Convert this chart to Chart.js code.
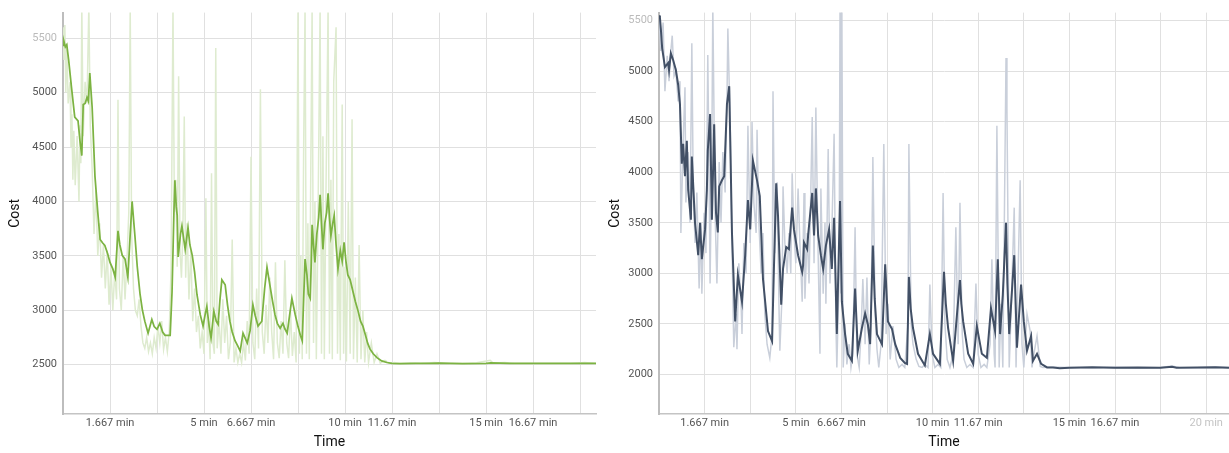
<!DOCTYPE html>
<html><head><meta charset="utf-8">
<script src="https://cdn.jsdelivr.net/npm/chart.js@4.4.1/dist/chart.umd.min.js"></script>
<style>
html,body{margin:0;padding:0;background:#fff;}
#wrap{position:relative;width:1229px;height:453px;overflow:hidden;}
canvas{position:absolute;top:0;}
</style></head><body>
<div id="wrap"><canvas id="c1" width="600" height="453" style="left:0"></canvas><canvas id="c2" width="629" height="453" style="left:600px"></canvas></div>
<script>
// ---- tick definitions ----
const xTickSecondsLeft = [0,100,200,300,400,500,600,700,800,900,1000,1100];
const xTickLabelsLeft = ['', '1.667 min', '', '5 min', '6.667 min', '', '10 min', '11.67 min', '', '15 min', '16.67 min', ''];
const xTickSecondsRight = [0,100,200,300,400,500,600,700,800,900,1000,1100,1200];
const xTickLabelsRight = ['', '1.667 min', '', '5 min', '6.667 min', '', '10 min', '11.67 min', '', '15 min', '16.67 min', '', '20 min'];
const yTicksLeft = [2500,3000,3500,4000,4500,5000,5500];
const yTicksRight = [2000,2500,3000,3500,4000,4500,5000,5500];

// ---- left panel: smoothed series (time in s, cost) ----
const leftSmoothT = [0,2,5,8,12,18,25,32,36,40,43,47,51,54,57,62,68,74,79,84,89,95,100,106,111,117,121,126,132,138,143,147,153,158,164,169,174,181,189,194,200,206,212,217,228,232,236,238,241,243,245,250,253,257,260,266,270,275,280,285,292,298,302,306,311,315,321,326,330,334,338,345,350,355,360,366,372,377,383,388,392,398,404,409,415,423,429,434,440,446,451,456,462,468,472,477,482,487,494,500,505,509,512,515,519,522,526,528,530,533,536,540,544,547,550,553,557,561,564,567,570,574,577,581,585,590,594,598,602,606,611,617,622,628,633,638,643,648,653,660,668,678,689,700,717,750,780,800,850,900,910,950,1000,1050,1100,1134];
const leftSmoothV = [5435,5470,5420,5440,5300,5050,4774,4740,4560,4420,4890,4900,4955,4920,5180,4865,4230,3900,3650,3620,3595,3520,3440,3380,3305,3730,3600,3505,3470,3305,3700,4000,3685,3400,3145,3000,2900,2790,2915,2850,2825,2880,2800,2770,2770,3170,3900,4195,3950,3870,3490,3700,3775,3650,3560,3760,3600,3505,3350,3145,2960,2855,2950,3035,2850,2745,2990,2900,2870,3100,3280,3235,3050,2900,2800,2720,2670,2625,2790,2740,2700,2810,3050,2950,2855,2900,3200,3395,3235,3080,2960,2880,2835,2880,2830,2790,2950,3110,2960,2850,2770,2720,3100,3470,3325,3150,3110,3400,3785,3600,3440,3700,3850,4060,3800,3560,3800,3900,4075,3850,3685,3800,3870,3600,3380,3550,3450,3625,3450,3325,3280,3170,3080,2990,2900,2855,2780,2700,2645,2600,2565,2535,2520,2513,2510,2512,2513,2515,2510,2513,2516,2512,2511,2512,2511,2512];

// ---- left panel: raw series ----
const leftRawT = [0,2,4,6,8,11,15,17,19,21,23,26,30,32,34,36,38,40,43,47,51,55,58,62,66,70,74,78,82,86,90,94,98,102,106,110,114,117,120,124,128,132,136,140,143,146,150,154,158,162,166,170,174,178,182,186,190,194,198,202,206,210,214,218,222,226,230,234,237,240,243,246,249,252,255,258,261,264,268,272,276,280,284,288,292,296,300,304,307,310,313,316,319,322,325,328,332,336,340,344,348,352,356,360,364,368,372,376,380,384,388,392,396,400,404,408,412,416,420,424,428,432,436,440,444,448,452,456,460,464,468,472,476,480,484,488,492,496,500,503,506,509,512,515,518,521,524,527,530,533,536,539,542,547,550,553,556,559,564,567,570,573,576,581,584,587,590,594,597,600,603,607,611,615,618,622,626,630,634,638,642,646,650,656,662,668,675,685,695,705,717,740,760,790,820,850,880,909,915,940,960,1000,1040,1080,1110,1134];
const leftRawV = [5600,5300,5620,5000,5450,4900,5100,4500,4800,4200,4650,4150,4600,4300,4000,4700,4350,5800,4600,5100,4900,5800,4700,4300,3700,4100,3500,3800,3300,3600,3200,3550,3050,3400,3000,3350,3100,4935,3200,3000,3500,3100,3450,3900,5800,3700,3200,3000,2950,3100,2850,2700,2650,2750,2620,2700,2600,2750,2650,2850,2700,2900,2640,2750,2620,2800,3400,5800,3900,4200,3400,5150,3550,3300,3700,4780,3300,3800,3100,3550,2900,3200,2800,2950,2650,2800,2600,4030,2700,2900,2550,4260,2700,2600,5410,2650,2900,2600,3100,2700,2950,2550,2700,3650,2520,2650,2520,2600,2520,2700,2540,2900,2600,4410,2700,2550,3200,2650,5030,2800,2600,3050,2700,3300,2800,2550,3440,2700,2560,2900,2600,3460,2700,2560,3000,2580,2800,2520,5800,2600,3500,2550,4500,5800,2600,3800,2550,4200,5800,2700,4000,2550,3600,5800,2600,4600,2550,3900,5800,2600,4200,2550,5100,5600,2600,3700,2540,4890,2600,3400,2530,4000,2600,4755,2550,3300,2520,3600,2550,3000,2520,2800,2520,2700,2520,2600,2515,2540,2512,2520,2510,2515,2510,2520,2512,2510,2518,2540,2515,2520,2512,2510,2512,2510,2520,2512];

// ---- right panel: smoothed series ----
const rightSmoothT = [0,2,4,7,13,20,22,26,31,37,42,46,50,53,57,61,64,70,72,79,86,90,94,101,105,107,112,116,121,125,129,132,138,143,149,154,160,167,173,182,189,195,200,206,215,221,228,239,248,252,257,261,268,272,279,285,292,296,305,314,316,318,325,327,336,340,344,349,355,360,366,373,379,384,390,397,401,408,414,423,430,436,445,452,458,463,469,473,478,489,496,502,511,518,529,539,544,548,552,557,568,583,594,601,616,625,629,634,645,654,660,663,667,678,689,697,708,719,728,737,743,748,754,761,764,768,779,785,794,800,807,816,820,829,838,851,864,879,900,950,1000,1050,1100,1125,1135,1180,1220,1250];
const rightSmoothV = [5550,5530,5420,5225,5040,5080,5010,5175,5110,5010,4865,4670,4085,4280,3960,4310,3825,3530,4155,3500,3180,3500,3140,3435,3825,4215,4575,3530,4475,3600,3405,3860,3920,3960,4670,4850,3405,2525,2985,2720,3180,3725,3435,4115,3920,3765,2945,2430,2330,3045,3890,3570,2690,3045,3260,3240,3650,3435,3180,3015,3080,3305,3240,3375,3795,3375,3840,3375,3180,3045,3275,3435,3045,3550,2400,3715,2720,2400,2205,2135,2850,2235,2460,2605,2495,2300,3275,2750,2400,2300,3090,2525,2450,2300,2165,2115,2105,2965,2650,2460,2205,2090,2400,2205,2105,3015,2700,2460,2135,2625,2935,2700,2525,2205,2105,2480,2205,2165,2655,2430,3140,2400,2790,3500,2900,2400,3180,2265,2890,2525,2235,2380,2135,2205,2105,2070,2070,2062,2068,2072,2066,2070,2068,2078,2068,2070,2072,2068];

// ---- right panel: raw series ----
const rightRawT = [0,4,9,13,18,22,26,29,33,37,42,46,48,53,57,59,64,68,72,75,79,83,88,92,94,99,103,107,110,112,116,118,123,127,132,136,140,145,149,151,156,160,164,169,171,175,180,182,186,191,195,200,204,208,213,215,219,224,228,232,237,243,248,250,254,259,263,265,270,272,276,281,285,289,292,296,300,305,309,314,318,320,325,329,336,340,344,349,353,355,360,364,366,371,375,379,384,388,390,395,397,399,401,404,408,412,417,421,425,430,434,439,443,447,452,456,461,465,469,474,478,482,487,493,498,502,507,513,520,526,533,539,546,548,553,557,564,570,577,583,590,594,599,605,612,618,623,627,632,638,645,651,656,660,665,669,675,682,689,695,700,706,713,719,726,730,735,737,741,746,750,754,761,763,768,772,779,783,787,792,796,800,807,814,818,822,829,836,842,860,900,950,1000,1050,1100,1125,1140,1180,1220,1250];
const rightRawV = [5530,5200,5480,4800,5150,4900,5200,5350,4950,5000,4700,4900,3400,4300,4840,3700,4200,3500,5275,3900,3300,3800,2850,3500,2800,3600,3200,5160,3900,2900,4300,5650,3600,2900,4100,3500,4200,3800,4700,5420,4500,3300,2270,2600,2250,3100,2700,2400,3300,3000,4460,3300,4500,3700,3400,4420,3500,3000,3400,2600,2300,2165,2400,4800,3200,3900,2700,2235,2800,3860,3300,3000,3400,3000,3990,3400,3100,3840,3300,2720,3795,2750,3400,2900,4545,3100,4640,3200,2205,3840,2800,3500,2700,4230,2900,3400,4380,2500,2070,3000,5650,2800,5650,2070,2500,2100,2300,2070,2200,3455,2200,2070,2400,2945,2300,2960,2100,2500,4150,2600,2250,2070,2300,4280,2400,2700,2150,2480,2150,2070,2100,2070,2500,4280,2500,2300,2150,2080,2070,2100,2070,2890,2200,2070,2100,2070,3795,2500,2150,2070,2200,3455,2300,3697,2400,2150,2070,2100,2070,2900,2200,2070,2100,2070,2300,3140,2200,2070,4460,2070,2700,2070,5130,4640,2070,2600,3650,2070,2900,3920,2300,2070,2600,2430,2070,2200,2380,2080,2070,2075,2070,2068,2072,2068,2070,2085,2070,2068,2072,2070];

const FONT = "Roboto, 'Noto Sans', sans-serif";

function pts(T, V) { return T.map((t, i) => ({x: t, y: V[i]})); }

function build(id, o) {
  new Chart(document.getElementById(id), {
    type: 'line',
    data: {
      datasets: [
        {data: pts(o.sT, o.sV), borderColor: o.dark, borderWidth: o.sw, pointRadius: 0, tension: 0},
        {data: pts(o.rT, o.rV), borderColor: o.light, borderWidth: 1.5, pointRadius: 0, tension: 0}
      ]
    },
    options: {
      responsive: false, animation: false, events: [],
      layout: {padding: {top: 7, right: o.padRight, bottom: 0, left: 0}},
      plugins: {legend: {display: false}, tooltip: {enabled: false}},
      scales: {
        x: {
          type: 'linear', min: 0, max: o.xMax,
          afterBuildTicks: s => { s.ticks = o.xTicks.map(v => ({value: v})); },
          afterFit: s => { s.height = 39; },
          grid: {color: '#e0e0e0', lineWidth: 1, drawTicks: false},
          border: {color: '#c4c4c4', width: 1.5},
          ticks: {autoSkip: false, maxRotation: 0, minRotation: 0, padding: 3,
            font: {family: FONT, size: 11},
            color: c => (o.xLabels[c.index] === '20 min' ? '#c4c4c4' : '#555'),
            callback: (v, i) => o.xLabels[i]},
          title: {display: true, text: 'Time', color: '#111', font: {family: FONT, size: 14}, padding: {top: 0, bottom: 2}}
        },
        y: {
          type: 'linear', min: o.yMin, max: o.yMax,
          afterBuildTicks: s => { s.ticks = o.yTicks.map(v => ({value: v})); },
          afterFit: s => { s.width = o.yW; },
          grid: {color: '#e0e0e0', lineWidth: 1, drawTicks: false},
          border: {color: '#bdbdbd', width: 2},
          ticks: {padding: 6, font: {family: FONT, size: 11},
            color: c => (c.tick && c.tick.value === 5500 ? '#bbbbbb' : '#555'),
            callback: v => String(v)},
          title: {display: true, text: 'Cost', color: '#111', font: {family: FONT, size: 14}, padding: {top: 7, bottom: 0}}
        }
      }
    }
  });
}

build('c1', {sT: leftSmoothT, sV: leftSmoothV, rT: leftRawT, rV: leftRawV,
  dark: '#7cb342', light: '#deebcf', sw: 1.75, xMax: 1134, xTicks: xTickSecondsLeft, xLabels: xTickLabelsLeft,
  yMin: 2047, yMax: 5735, yTicks: yTicksLeft, yW: 63, padRight: 4});
build('c2', {sT: rightSmoothT, sV: rightSmoothV, rT: rightRawT, rV: rightRawV,
  dark: '#425066', light: '#c9cfda', sw: 2, xMax: 1250, xTicks: xTickSecondsRight, xLabels: xTickLabelsRight,
  yMin: 1610, yMax: 5578, yTicks: yTicksRight, yW: 59, padRight: 0});
</script>
</body></html>
